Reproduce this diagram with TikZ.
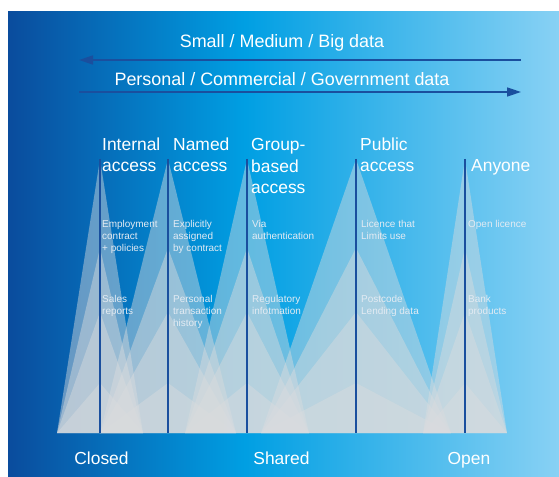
\documentclass[tikz,border=0pt]{standalone}
\usepackage{fontspec}
\setmainfont{Liberation Sans}
\usetikzlibrary{arrows.meta}
\definecolor{bgdark}{HTML}{0A4C9D}
\definecolor{bgmid}{HTML}{009FE3}
\definecolor{bglight}{HTML}{88D1F4}
\definecolor{rule}{HTML}{1A4F9E}
\definecolor{veil}{HTML}{DADCDE}
\definecolor{note}{HTML}{E3EBF3}
\begin{document}
\begin{tikzpicture}[x=1bp, y=-1bp, line join=round, >={Triangle[length=14bp, width=9bp]}]
		\def\base{433}
		\tikzset{veil/.style={fill=veil, fill opacity=.45},
		% multi-line nodes sit on the baseline of their last line
		head/.style={anchor=base west, inner sep=0, align=left, text=white, font=\fontsize{17.5}{21.7}\selectfont},
		note/.style={anchor=base west, inner sep=0, align=left, text=note, font=\fontsize{10}{12}\selectfont},
		title/.style={anchor=base, inner sep=0, text=white, font=\fontsize{18}{21}\selectfont},
		span/.style={rule, line width=1.6bp}}
		\useasboundingbox (0,0) rectangle (559,477);
		% background, dark to bright to light
		\shade[left color=bgdark, right color=bgmid] (8,12) rectangle (245,477);
		\shade[left color=bgmid, right color=bglight] (245,12) rectangle (559,477);
		% stacked fans under every access level
		\foreach \x/\w/\n in {100/43/internal, 168/68/named, 247/62/group, 356/95/public, 465/42/anyone}{
			\foreach \a in {159,248,312,383}
				\fill[veil] (\x,\a) -- (\x-\w,\base) -- (\x+\w,\base) -- cycle;
			\coordinate (\n-top) at (\x,159);
			\coordinate (\n-foot) at (\x,\base);
		}
		\foreach \n in {internal, named, group, public, anyone}
			\draw[rule, line width=1.6bp] (\n-top) -- (\n-foot);
		% data scale arrows
		\node[title] (size-label) at (282,48) {Small / Medium / Big data};
		\node[title] (kind-label) at (282,86) {Personal / Commercial / Government data};
		\coordinate (size-from) at (521,60); \coordinate (size-to) at (79,60);
		\coordinate (kind-from) at (79,92); \coordinate (kind-to) at (521,92);
		\draw[->, span] (size-from) -- (size-to);
		\draw[->, span] (kind-from) -- (kind-to);
		% access levels
		\node[head] (internal) at (102,172) {Internal\\access};
		\node[head] (named) at (173,172) {Named\\access};
		\node[head] (group) at (251,194) {Group-\\based\\access};
		\node[head] (public) at (360,172) {Public\\access};
		\node[head] (anyone) at (471,172) {Anyone};
		\node[note] (internal-how) at (102,251) {Employment\\contract\\+ policies};
		\node[note] (named-how) at (173,251) {Explicitly\\assigned\\by contract};
		\node[note] (group-how) at (252,239) {Via\\authentication};
		\node[note] (public-how) at (361,239) {Licence that\\Limits use};
		\node[note] (anyone-how) at (468,227) {Open licence};
		\node[note] (internal-ex) at (102,314) {Sales\\reports};
		\node[note] (named-ex) at (173,326) {Personal\\transaction\\history};
		\node[note] (group-ex) at (252,314) {Regulatory\\infotmation};
		\node[note] (public-ex) at (361,314) {Postcode\\Lending data};
		\node[note] (anyone-ex) at (468,314) {Bank\\products};
		% openness scale
		\node[title, font=\fontsize{17.5}{21}\selectfont] (closed) at (101.5,464) {Closed};
		\node[title, font=\fontsize{17.5}{21}\selectfont] (shared) at (281.5,464) {Shared};
		\node[title, font=\fontsize{17.5}{21}\selectfont] (open) at (469,464) {Open};
	\end{tikzpicture}
\end{document}
